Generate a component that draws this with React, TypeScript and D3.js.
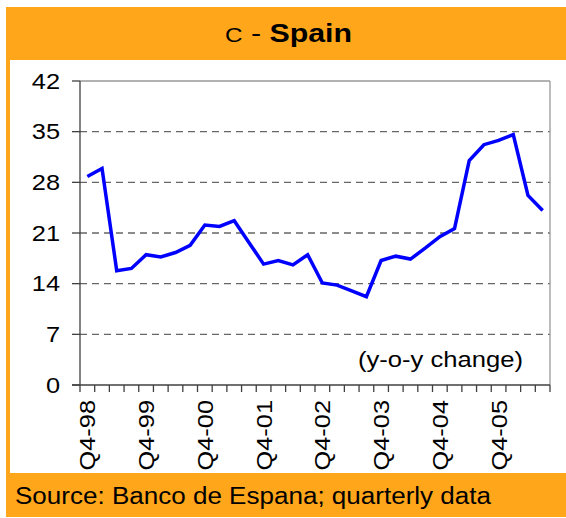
import React from 'react';
import * as d3 from 'd3';

// quarterly y-o-y change, Spain
const quarters = [
  'Q4-98', 'Q1-99', 'Q2-99', 'Q3-99', 'Q4-99', 'Q1-00', 'Q2-00', 'Q3-00',
  'Q4-00', 'Q1-01', 'Q2-01', 'Q3-01', 'Q4-01', 'Q1-02', 'Q2-02', 'Q3-02',
  'Q4-02', 'Q1-03', 'Q2-03', 'Q3-03', 'Q4-03', 'Q1-04', 'Q2-04', 'Q3-04',
  'Q4-04', 'Q1-05', 'Q2-05', 'Q3-05', 'Q4-05', 'Q1-06', 'Q2-06', 'Q3-06',
];
const values = [
  28.8, 29.9, 15.8, 16.1, 18.0, 17.7, 18.3, 19.3,
  22.1, 21.9, 22.7, 19.7, 16.7, 17.2, 16.6, 18.0,
  14.1, 13.8, 13.0, 12.2, 17.2, 17.8, 17.4, 18.9,
  20.5, 21.6, 31.0, 33.2, 33.8, 34.6, 26.2, 24.1,
];
const yTicks = [0, 7, 14, 21, 28, 35, 42];
const xTickLabels = ['Q4-98', 'Q4-99', 'Q4-00', 'Q4-01', 'Q4-02', 'Q4-03', 'Q4-04', 'Q4-05'];

const W = 566;
const H = 518;
const orange = '#FFA61B';
const font = '"Liberation Sans", Arial, sans-serif';

const App: React.FC = () => {
  const left = 80, right = 550, top = 81, bottom = 385;

  const x = d3.scaleBand<string>().domain(quarters).range([left, right]).padding(0);
  const y = d3.scaleLinear().domain([0, 42]).range([bottom, top]);
  const cx = (q: string) => (x(q) ?? 0) + x.bandwidth() / 2;

  const line = d3.line<number>()
    .x((d, i) => cx(quarters[i]))
    .y(d => y(d));

  const boundaries = quarters.map(q => x(q) ?? 0).concat([right]);

  return (
    <svg width={W} height={H} style={{ position: 'absolute', left: 0, top: 0, background: '#fff' }}
      fontFamily={font}>
      {/* frame */}
      <rect x={6} y={7} width={W - 6} height={53} fill={orange} />
      <rect x={6} y={60} width={4} height={413} fill={orange} />
      <rect x={6} y={473} width={W - 6} height={44} fill={orange} />

      <text x={225} y={42} textLength={127} lengthAdjust="spacingAndGlyphs" fill="#000">
        <tspan fontSize={20}>C</tspan>
        <tspan fontSize={25}> - </tspan>
        <tspan fontSize={25} fontWeight="bold">Spain</tspan>
      </text>

      {/* grid */}
      {yTicks.filter(t => t > 0 && t < 42).map(t => (
        <line key={t} x1={left} x2={right} y1={y(t)} y2={y(t)}
          stroke="#666" strokeWidth={1.4} strokeDasharray="7,5" />
      ))}
      <line x1={left} x2={right} y1={y(42)} y2={y(42)} stroke="#999" strokeWidth={1.3} />
      <line x1={right} x2={right} y1={y(42)} y2={bottom} stroke="#999" strokeWidth={1.3} />

      {/* y axis */}
      <line x1={left} x2={left} y1={top} y2={bottom} stroke="#404040" strokeWidth={1.3} />
      {yTicks.map(t => (
        <g key={t}>
          <line x1={left - 8} x2={left} y1={y(t)} y2={y(t)} stroke="#404040" strokeWidth={1.3} />
          <text transform={`translate(60,${y(t) + 7.5}) scale(1.18,1)`} textAnchor="end" fontSize={21.5} fill="#000">
            {t}
          </text>
        </g>
      ))}

      {/* x axis */}
      <line x1={left - 8} x2={right} y1={bottom} y2={bottom} stroke="#404040" strokeWidth={1.3} />
      {boundaries.map((b, i) => (
        <line key={i} x1={b} x2={b} y1={bottom} y2={bottom + 7} stroke="#404040" strokeWidth={1.3} />
      ))}
      {xTickLabels.map(q => (
        <text key={q} transform={`translate(${cx(q) + 8},400) rotate(-90) scale(1.18,1)`}
          textAnchor="end" fontSize={21.5} fill="#000">
          {q}
        </text>
      ))}

      <path d={line(values) || ''} fill="none" stroke="#0000FF" strokeWidth={3.5} strokeLinejoin="miter" />

      <text x={358} y={367} textLength={165} lengthAdjust="spacingAndGlyphs" fontSize={22} fill="#000">
        (y-o-y change)
      </text>

      <text x={15} y={504} textLength={476} lengthAdjust="spacingAndGlyphs" fontSize={23.5} fill="#000">
        Source: Banco de Espana; quarterly data
      </text>
    </svg>
  );
};

export default App;
